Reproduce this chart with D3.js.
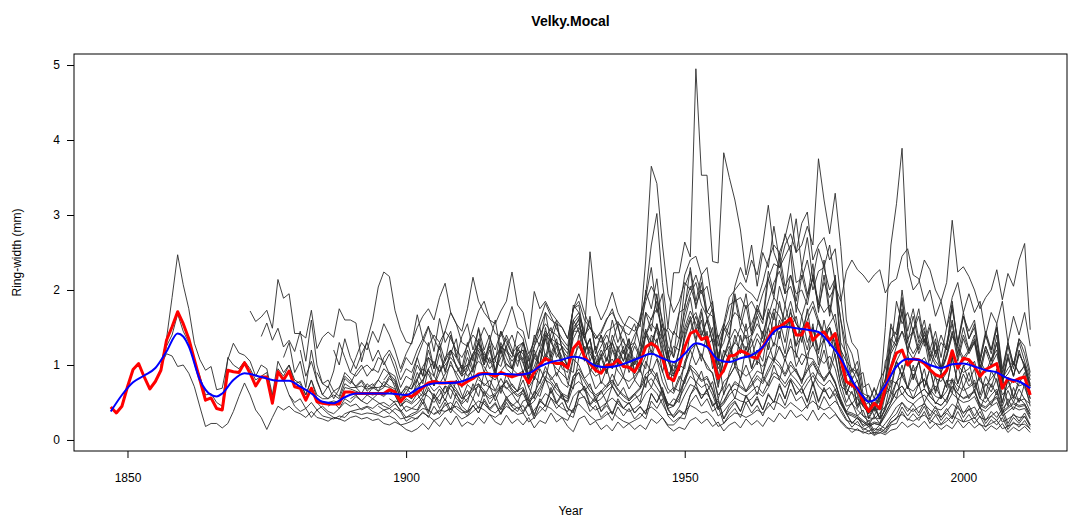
<!DOCTYPE html>
<html>
<head>
<meta charset="utf-8">
<script src="https://cdn.jsdelivr.net/npm/d3@7"></script>
<style>
  body { margin: 0; background: #fff; }
  text { font-family: "Liberation Sans", Arial, sans-serif; fill: #000; }
</style>
</head>
<body>
<div id="chart"></div>
<script>
// Ring-width series (mm), one array per tree, first year in seriesStart
const seriesStart = [1847, 1856, 1856, 1872, 1874, 1878, 1878, 1879, 1881, 1884, 1884, 1886, 1887,
                     1890, 1890, 1891, 1893, 1895, 1896, 1897, 1899, 1901, 1905, 1909, 1913, 1920];

const s01 = [.44,.36,.45,.71,.94,1.02,.84,.68,.78,.95,
  1.25,1.40,1.68,1.45,1.30,1.05,.85,.60,.62,.50, .45,1.10,1.00,.95,1.05,.95,.80,.85,.90,.55,
  .95,.85,1.00,.80,.75,.60,.80,.60,.55,.55, .60,.55,.75,.70,.70,.72,.68,.70,.70,.72,
  .70,.65,.50,.60,.55,.66,.58,.75,.65,.72, .62,.78,.68,.55,.74,.66,.85,.72,.8,.66,
  .82,.68,.75,.64,.8,.55,.85,.75,.98,.8, .9,.76,.7,1.08,1.0,.82,.9,.68,.78,.7,
  .88,.72,.85,.68,.8,.7,1.05,.9,1.08,.78, .62,.7,.65,1.05,1.2,1.0,1.15,.95,.9,.55,
  .78,.85,.98,.82,1.0,.8,.92,.88,1.12,1.05, 1.25,1.05,1.35,.98,1.15,1.1,1.08,.95,1.2,.9,
  1.15,.72,.65,.48,.58,.32,.3,.28,.36,.45, .8,.75,1.0,.68,.88,.72,.82,.62,.72,.56,
  .78,.8,.65,.88,.72,.8,.55,.75,.64,.82, .45,.66,.5,.68,.54,.48];
const s02 = [.98,1.35,1.9,2.47,2.07,1.75,1.29,1.07,.93,.98,.67,.69,1.07,1.29,1.16,1.13,
  1.05,.85,1.0,.95,.6,1.05,.9,1.0,.75,.78,.6,.8,.55,.5,.5,.52,.5,.7,.68,.65,.62,.62,.6,.62,.6,.65,.6,.45,.55,
  .5,.62,.48,.7,.55,.68,.52,.75,.6,.5, .66,.55,.75,.58,.72,.52,.7,.56,.62,.5,
  .68,.45,.65,.58,.82,.62,.76,.55,.52,.85, .9,.65,.75,.52,.66,.5,.72,.58,.7,.52,
  .62,.5,.85,.7,.9,.6,.45,.55,.5,.82, .98,.75,.92,.65,.78,.42,.62,.75,.55,.82,
  .65,.8,.6,.85,.72,1.0,.8,1.08,.88,.95, .75,1.05,.72,.95,.78,.9,.75,.55,.38,.5,
  .32,.4,.2,.32,.22,.45,.52,.78,.6,.72, .55,.75,.5,.66,.48,.6,.5,.8,.52,.72,
  .55,.68,.42,.6,.46,.65,.36,.55,.4,.56, .48,.34];
const s03 = [1.0,1.15,1.12,.98,1.0,.89,.71,.44,.18,.22,.22,.16,.22,.38,.58,.76,
  .6,.4,.3,.14,.3,.45,.4,.45,.38,.35,.3,.38,.3,.28,.25,.3,.28,.35,.38,.36,.34,.36,.35,.33,.3,.32,.28,.2,.22,
  .25,.3,.36,.32,.26,.3,.38,.42,.35,.28, .32,.38,.44,.4,.34,.3,.36,.45,.4,.34,
  .36,.24,.3,.38,.46,.42,.35,.3,.26,.42, .48,.4,.32,.26,.28,.34,.38,.3,.25,.22,
  .26,.3,.4,.44,.38,.3,.2,.2,.28,.38, .46,.42,.36,.38,.3,.18,.22,.3,.36,.34,
  .3,.34,.4,.36,.44,.52,.48,.42,.5,.44, .38,.46,.52,.45,.4,.44,.36,.24,.16,.15,
  .13,.11,.08,.1,.09,.15,.22,.3,.34,.28, .25,.3,.33,.27,.22,.2,.25,.32,.28,.24,
  .26,.3,.2,.18,.22,.26,.15,.18,.22,.2, .21,.15];
const s04 = [1.72,1.58,1.64,1.73,1.49,2.14,1.89,1.95,1.42,1.42,1.36,1.73,1.22,1.37,1.44,1.37,1.75,1.6,1.6,1.56,
  1.04,1.33,1.6,2.04,2.24,2.18,1.73,1.47,1.31,
  1.28,1.67,1.35,1.52,1.18,1.62,1.3,1.45,1.1,1.38, 1.55,1.2,1.48,1.05,1.32,1.6,1.15,1.4,1.22,.98,
  1.3,.85,1.25,1.5,1.1,1.42,1.6,1.2,.95,1.45, 1.62,1.18,1.35,.9,1.12,1.3,.95,1.25,1.05,1.35,
  .88,1.2,1.48,1.15,1.55,1.25,.8,1.05,.92,1.4, 1.6,1.3,1.7,1.25,1.05,.7,1.1,1.35,.98,1.25,
  1.4,.95,1.2,1.05,1.5,1.25,1.6,1.3,1.75,1.1, 1.45,1.2,1.55,1.0,1.35,1.5,1.1,.75,.5,.65,
  .42,.55,.3,.45,.28,.6,.72,1.05,.85,1.1, .8,1.05,.7,.95,.62,.88,.7,1.1,.75,.98,
  1.05,.7,.85,.6,.92,.78,.5,.82,.58,.75, .9,.55];
const s05 = [1.38,1.56,1.33,1.49,1.24,1.33,1.18,1.45,1.05,1.6,1.0,.75,.7,.92,1.3,1.1,.9,.85,.95,1.0,
  .92,1.1,1.05,.88,.8,.62,.7,
  .68,.8,.95,.88,.72,.9,1.1,1.2,.98,.85, .92,1.15,1.3,1.12,.95,1.05,.98,1.25,1.4,1.18,
  1.02,.8,.92,1.15,1.35,1.5,1.28,1.1,1.0,1.45, 1.55,1.35,1.18,1.1,1.25,1.4,1.22,1.05,.98,1.15,
  1.3,1.12,1.4,1.62,1.75,1.45,1.05,.92,1.2,1.5, 1.72,1.55,1.38,1.6,1.3,.95,1.1,1.32,1.48,1.35,
  1.2,1.38,1.55,1.42,1.65,1.9,1.78,1.6,1.85,1.55, 1.45,1.7,1.85,1.6,1.42,1.55,1.68,1.15,.85,.95,
  .78,.6,.5,.68,.55,.82,1.15,1.3,1.45,1.2, 1.08,1.25,1.35,1.15,1.0,.9,1.1,1.42,1.22,1.05,
  1.18,1.3,1.0,.9,1.08,1.2,.82,.95,1.05,.88, 1.0,.72];
const s06 = [.8,.6,.45,.38,.42,.3,.4,.32,.3,.28,.32,.3,.38,.4,.42,.45,.42,.48,.5,.45,.52,.5,.38,.42,
  .4,.55,.38,.62,.48,.72,.55,.8,.6,.5, .75,.58,.9,.7,.95,.62,.88,.72,.65,.92,
  .7,.55,.95,.8,1.15,.85,1.05,.75,.68,1.1, 1.25,.9,1.1,.75,.95,.7,1.05,.85,1.15,.8,
  .95,.7,1.1,1.35,.9,1.2,.65,.85,.75,1.05, 1.3,1.05,1.45,.95,1.15,.6,.9,1.1,.8,1.25,
  .95,1.2,.85,1.3,1.05,1.45,1.15,1.6,1.25,1.4, 1.05,1.5,1.2,1.35,.95,1.3,1.05,.7,.85,.45,
  .6,.35,.5,.28,.4,.65,.55,.9,.7,1.0, .72,.95,.6,.85,.55,.8,.62,1.0,.7,.9,
  .65,.88,.55,.75,.6,.85,.45,.7,.5,.75, .45];
const s07 = [1.1,1.3,.9,1.05,.7,1.2,.8,.6,.72,.55,.68,.9,.82,.7,.78,.65,.72,.8,.95,.88,.7,.5,.62,
  .75,1.0,.85,1.2,.95,1.3,1.05,1.4,1.15,.95, 1.3,1.05,1.5,1.2,1.4,1.05,1.45,1.2,1.1,1.45,
  1.35,.95,1.4,1.25,1.7,1.3,1.55,1.2,1.1,1.8, 1.7,1.35,1.65,1.15,1.4,1.2,1.6,1.3,1.5,1.25,
  1.3,1.65,1.9,2.3,1.7,1.95,1.1,1.45,1.35,2.05, 2.25,1.75,2.1,1.6,1.75,1.0,1.5,1.35,1.9,1.5,
  1.8,1.4,1.7,1.55,2.15,1.9,2.4,1.95,2.5,1.7, 2.2,1.9,2.35,1.7,2.2,1.65,2.1,1.2,1.05,.7,
  .8,.45,.5,.32,.48,.62,1.2,1.35,1.7,1.2, 1.45,1.15,1.35,.95,1.2,.9,1.15,1.45,1.05,1.35,
  1.15,1.3,.88,1.2,.98,1.3,.75,1.1,.85,1.15, 1.0,.75];
const s08 = [.6,.5,.55,.42,.5,.4,.45,.38,.35,.42,.5,.45,.48,.4,.44,.38,.35,.4,.42,.36,.28,.3,
  .32,.36,.42,.4,.34,.38,.46,.5,.42,.36, .38,.45,.52,.48,.4,.36,.44,.55,.48,.42,
  .46,.32,.4,.5,.62,.56,.48,.42,.38,.58, .66,.56,.46,.4,.44,.5,.56,.48,.42,.38,
  .42,.48,.62,.7,.62,.48,.34,.33,.44,.6, .74,.7,.6,.62,.5,.32,.38,.48,.56,.52,
  .5,.55,.64,.58,.7,.85,.8,.7,.82,.72, .62,.75,.86,.72,.64,.7,.58,.38,.26,.24,
  .2,.16,.12,.15,.13,.22,.32,.44,.5,.42, .38,.44,.48,.4,.34,.31,.38,.48,.42,.37,
  .4,.44,.3,.27,.32,.38,.24,.28,.33,.3, .31,.2];
const s09 = [1.2,.85,1.05,.78,.6,.55,.65,.58,.82,.75,.9,1.0,.85,.95,.9,1.1,1.2,1.05,.8,.95,
  .9,1.1,1.3,1.5,1.35,1.2,1.45,1.7,1.55,1.3, 1.25,1.48,1.72,1.85,1.6,1.42,1.38,1.55,1.78,1.5,
  1.45,1.15,1.3,1.6,1.82,1.65,1.48,1.35,1.25,1.75, 1.95,1.7,1.5,1.35,1.42,1.6,1.75,1.5,1.3,1.22,
  1.4,1.55,1.85,2.05,1.9,1.6,1.25,1.1,1.35,1.7, 1.95,2.1,1.8,1.65,1.4,1.15,1.3,1.55,1.7,1.62,
  1.45,1.55,1.75,1.6,1.85,2.1,2.25,1.95,2.05,1.8, 1.65,1.9,2.15,1.85,1.7,1.8,1.55,1.2,.9,.78,
  .62,.5,.42,.55,.48,.72,1.0,1.25,1.45,1.3, 1.15,1.28,1.4,1.2,1.05,.95,1.12,1.38,1.25,1.1,
  1.2,1.32,1.05,.92,1.0,1.15,.8,.88,1.02,.9, .98,.62];
const s10 = [.5,.42,.35,.3,.28,.25,.3,.32,.28,.3,.26,.28,.22,.2,.24,.2,.14,.11,
  .15,.22,.14,.26,.18,.3,.2,.32,.18,.24, .2,.3,.22,.34,.24,.2,.33,.22,.28,.2,
  .3,.16,.26,.22,.36,.24,.3,.18,.11,.28, .32,.2,.25,.14,.2,.12,.24,.16,.22,.14,
  .2,.14,.28,.22,.3,.18,.12,.17,.14,.26, .3,.22,.28,.18,.24,.12,.2,.24,.16,.28,
  .2,.26,.18,.3,.24,.36,.28,.4,.3,.34, .26,.4,.26,.36,.28,.34,.26,.18,.1,.15,
  .09,.12,.06,.1,.07,.13,.15,.24,.17,.22, .17,.25,.15,.22,.14,.2,.15,.26,.16,.24,
  .16,.22,.12,.19,.14,.22,.1,.17,.12,.18, .1];
const s11 = [.9,.75,.8,.65,.7,.85,.78,.72,.8,.7,.75,.65,.7,.82,.75,.55,.68,
  .62,.72,.8,.95,1.05,.92,1.0,1.1,1.0,.88, .98,1.12,1.22,1.15,1.05,1.1,1.25,1.18,1.05,1.15,
  1.2,.95,1.1,1.3,1.45,1.35,1.3,1.25,1.15,1.55, 1.65,1.4,1.5,1.35,1.45,1.62,1.7,1.55,1.5,1.65,
  1.6,1.51,2.4,3.65,3.42,2.6,1.95,1.7,1.85,2.1, 2.0,2.2,1.95,2.05,1.7,1.25,1.5,1.8,1.85,1.9,
  1.75,1.85,1.7,1.95,2.15,2.35,2.3,2.45,2.6,2.1, 2.15,2.4,2.0,2.25,2.3,2.0,2.15,1.6,1.05,.95,
  .9,.55,.5,.4,.58,.75,1.35,1.45,1.85,1.3, 1.65,1.3,1.5,1.1,1.35,.95,1.3,1.6,1.15,1.5,
  1.2,1.4,.95,1.25,1.05,1.4,.78,1.15,.85,1.2, .95,.7];
const s12 = [.45,.5,.42,.55,.5,.58,.52,.6,.55,.62,.58,.65,.6,.45,.52,
  .48,.55,.62,.58,.5,.6,.72,.68,.55,.48, .55,.66,.72,.62,.55,.6,.7,.78,.65,.58,
  .62,.45,.52,.66,.8,.75,.62,.55,.5,.72, .78,.7,.58,.5,.55,.65,.72,.6,.52,.48,
  .55,.6,.75,.82,.7,.58,.42,.45,.55,.7, .85,.78,.7,.75,.6,.4,.48,.6,.68,.62,
  .58,.65,.72,.62,.78,.9,.85,.75,.88,.8, .7,.82,.9,.78,.72,.8,.68,.48,.35,.32,
  .28,.24,.18,.22,.2,.32,.45,.55,.62,.52, .48,.55,.6,.5,.42,.4,.48,.62,.55,.5,
  .52,.58,.42,.38,.45,.5,.32,.38,.44,.4, .42,.28];
const s13 = [1.2,1.0,1.35,1.1,.95,1.15,1.3,1.05,1.2,1.0,1.15,.95,.7,.85,
  .8,1.1,.85,1.3,.95,1.25,.9,1.15,1.35,.9, 1.2,.95,1.35,1.05,1.25,.88,1.3,1.1,.95,1.25,
  1.05,.78,1.2,1.0,1.5,1.15,1.35,1.0,.95,1.6, 1.45,1.2,1.35,.95,1.15,.9,1.3,1.05,1.25,.95,
  1.1,.95,1.45,1.3,1.5,1.35,1.5,2.23,2.23,2.64, 2.44,4.95,3.53,3.53,2.38,2.36,3.83,3.5,3.2,2.8,
  2.2,2.6,2.05,2.5,2.3,2.85,2.4,2.75,2.5,2.95, 2.3,2.7,2.15,2.55,2.3,2.6,2.1,1.6,1.25,.9,
  1.05,.62,.58,.45,.65,.8,1.5,1.4,1.9,1.35, 1.45,1.65,1.25,1.5,1.1,1.3,1.2,1.85,1.25,1.65,
  1.35,1.5,1.05,1.4,1.15,1.5,.85,1.25,.95,1.3, 1.05,.8];
const s14 = [.55,.6,.52,.48,.55,.5,.45,.42,.48,.4,.3,.35,
  .38,.5,.35,.58,.42,.55,.4,.62,.45,.38, .55,.42,.65,.48,.6,.4,.58,.45,.52,.38,
  .5,.32,.55,.45,.7,.5,.62,.42,.38,.62, .72,.48,.58,.38,.5,.35,.55,.42,.5,.36,
  .45,.35,.62,.5,.7,.42,.3,.4,.35,.6, .75,.55,.68,.45,.55,.28,.45,.52,.38,.6,
  .45,.58,.4,.62,.5,.75,.55,.8,.6,.7, .5,.78,.52,.7,.55,.68,.5,.35,.22,.3,
  .2,.26,.12,.2,.15,.28,.35,.5,.38,.48, .36,.5,.32,.45,.3,.42,.3,.52,.35,.46,
  .32,.44,.26,.38,.3,.42,.22,.35,.25,.36, .2];
const s15 = [.9,1.1,1.3,1.2,1.45,1.3,1.55,1.4,1.2,.95,1.15,
  1.3,1.5,1.65,1.75,1.6,1.9,2.09,1.7,1.55,1.45, 1.75,2.17,1.85,1.7,1.6,1.55,1.72,1.85,2.24,1.8,
  1.7,1.35,1.98,1.75,1.85,1.7,1.6,1.5,1.35,1.75, 1.8,1.35,1.6,1.2,1.4,1.05,1.3,1.55,1.15,1.35,
  1.0,1.3,1.7,1.45,1.95,1.3,1.05,.85,1.2,1.6, 1.9,1.45,1.75,1.3,1.5,.85,1.2,1.05,1.4,1.15,
  1.55,1.1,1.35,1.2,1.7,1.4,1.85,1.5,1.6,1.25, 1.65,1.3,1.5,1.15,1.6,1.25,1.4,.85,.6,.8,
  .45,.6,.28,.42,.3,.7,.65,1.05,.85,1.15, .82,1.05,.7,.95,.65,.9,.7,1.1,.75,1.0,
  .78,.95,.6,.85,.7,.95,.5,.8,.55,.82, .7,.5];
const s16 = [.7,.62,.75,.68,.8,.72,.85,.78,.55,.62,
  .58,.68,.8,.92,.85,.75,.88,1.0,.9,.78, .82,.95,1.05,.98,.85,.8,.92,1.02,.95,.88,
  .92,.7,.82,.98,1.15,1.05,.95,.88,.8,1.1, 1.25,1.1,.95,.85,.9,1.0,1.08,.92,.82,.78,
  .85,.95,1.12,1.2,1.1,.92,.68,.62,.8,1.0, 1.2,1.28,1.12,1.0,.88,.6,.7,.85,.98,.92,
  .85,.92,1.05,.98,1.12,1.3,1.22,1.1,1.25,1.15, 1.0,1.15,1.28,1.1,1.02,1.12,.95,.65,.45,.48,
  .4,.32,.25,.3,.28,.42,.6,.78,.85,.7, .65,.75,.8,.68,.58,.55,.65,.82,.72,.66,
  .7,.76,.55,.5,.6,.68,.42,.5,.58,.52, .55,.38];
const s17 = [.6,.7,.65,.78,.72,.68,.5,.6,
  .55,.8,.62,.95,.72,1.0,.78,1.05,.85,.7, 1.0,.82,1.15,.9,1.1,.85,1.2,.95,.88,1.15,
  1.2,.8,1.15,1.0,1.4,1.1,1.3,1.05,.95,1.5, 1.6,1.15,1.35,1.0,1.2,1.05,1.4,1.2,1.35,1.05,
  1.25,1.1,1.7,1.6,1.85,1.4,1.05,1.25,1.2,1.8, 2.05,1.8,2.0,1.7,1.65,1.05,1.45,1.6,2.05,2.3,
  2.1,2.4,2.2,2.6,3.13,2.5,2.3,2.6,2.75,2.5, 2.6,2.85,2.6,3.75,3.2,2.75,3.29,2.58,1.6,1.3,
  1.2,.7,.75,.55,.8,.95,1.55,1.3,2.0,1.45, 1.75,1.35,1.6,1.2,1.45,1.1,1.5,1.75,1.3,1.65,
  1.45,1.6,1.1,1.45,1.2,1.55,.95,1.3,1.0,1.35, 1.15,.85];
const s18 = [.45,.4,.35,.42,.38,.25,.3,
  .28,.38,.3,.45,.34,.5,.36,.52,.4,.32, .46,.36,.55,.42,.5,.35,.54,.44,.38,.52,
  .55,.34,.52,.45,.66,.48,.6,.42,.36,.65, .68,.46,.55,.38,.46,.34,.52,.42,.5,.36,
  .44,.34,.62,.5,.65,.4,.3,.38,.34,.6, .7,.55,.66,.45,.52,.28,.4,.5,.38,.58,
  .45,.55,.4,.6,.5,.72,.55,.8,.62,.68, .52,.75,.5,.68,.55,.62,.5,.36,.22,.3,
  .18,.22,.09,.16,.11,.24,.28,.44,.32,.42, .32,.45,.28,.4,.26,.36,.28,.46,.3,.42,
  .28,.38,.22,.32,.26,.36,.18,.3,.22,.32, .18];
const s19 = [.8,.9,.85,.6,.72,
  .68,.9,.75,1.1,.85,1.15,.92,1.2,.98,.85, 1.1,.9,1.3,1.0,1.2,.92,1.25,1.0,.95,1.2,
  1.15,.78,1.1,1.0,1.35,1.05,1.25,.95,.9,1.45, 1.45,1.05,1.25,.92,1.1,.88,1.2,1.0,1.2,.9,
  1.05,.9,1.4,1.25,1.55,1.1,.85,1.0,.92,1.45, 1.65,1.35,1.6,1.25,1.35,.75,1.1,1.25,1.0,1.4,
  1.1,1.35,1.0,1.45,1.2,1.7,1.35,1.8,1.5,1.65, 1.3,1.75,1.25,1.6,1.3,1.5,1.25,.95,.62,.8,
  .6,.45,.35,.42,.6,1.5,2.6,3.15,3.89,2.3, 2.0,2.1,2.4,2.27,2.0,1.85,2.1,2.93,2.24,2.31,
  2.18,2.0,1.75,1.9,2.0,2.27,1.87,2.22,2.05,2.4, 2.62,1.47];
const s20 = [.55,.5,.38,.45,
  .42,.48,.58,.66,.6,.52,.62,.72,.65,.55, .6,.7,.75,.66,.58,.62,.7,.8,.68,.6,
  .66,.5,.58,.7,.85,.78,.68,.6,.55,.8, .9,.78,.65,.58,.62,.7,.78,.66,.58,.52,
  .6,.68,.82,.9,.8,.65,.48,.45,.6,.78, .95,.88,.78,.82,.66,.44,.52,.66,.75,.7,
  .64,.72,.82,.75,.9,1.05,.98,.85,1.0,.9, .78,.92,1.02,.88,.8,.9,.76,.52,.38,.36,
  .32,.26,.2,.24,.22,.36,.5,.66,.72,.6, .55,.62,.68,.58,.5,.46,.55,.72,.62,.56,
  .6,.65,.48,.44,.52,.58,.38,.44,.5,.46, .48,.34];
const s21 = [.9,1.1,
  1.0,1.2,1.35,1.25,1.4,1.3,1.45,1.35,1.2,1.1, 1.25,1.4,1.3,1.5,1.35,1.2,1.45,1.3,1.15,1.25,
  1.3,1.05,1.25,1.4,1.55,1.45,1.4,1.3,1.2,1.6, 1.7,1.45,2.51,1.8,1.6,1.75,1.97,1.7,1.55,1.5,
  1.45,1.6,1.95,2.6,3.02,2.1,1.5,1.4,1.7,2.2, 2.4,2.45,2.2,2.3,1.8,1.35,1.55,1.9,2.0,2.1,
  2.0,1.95,1.85,2.1,2.4,2.6,2.5,2.7,3.02,2.5, 2.89,3.04,2.4,2.6,2.7,2.4,2.55,1.9,1.3,1.15,
  .85,.9,.5,.7,.5,1.05,1.2,1.85,1.55,1.7, 1.45,1.75,1.3,1.55,1.15,1.4,1.2,1.8,1.3,1.7,
  1.35,1.55,1.05,1.4,1.2,1.5,.9,1.3,1.0,1.35, 1.25,.9];
const s22 = [.7,.82,.98,1.1,1.02,.9,1.05,1.2,1.1,.95, 1.0,1.15,1.28,1.18,1.02,1.1,1.22,1.35,1.15,1.05,
  1.1,.85,.98,1.2,1.42,1.3,1.15,1.05,.98,1.35, 1.5,1.35,1.15,1.02,1.1,1.22,1.3,1.12,1.0,.95,
  1.05,1.15,1.4,1.55,1.45,1.2,.9,.85,1.05,1.35, 1.6,1.7,1.45,1.3,1.15,.82,.95,1.15,1.3,1.22,
  1.15,1.25,1.42,1.3,1.5,1.75,1.65,1.5,1.7,1.55, 1.4,1.6,1.78,1.55,1.42,1.5,1.3,.92,.68,.62,
  .55,.45,.36,.42,.4,.6,.85,1.05,1.2,1.0, .92,1.02,1.1,.95,.82,.78,.9,1.12,1.0,.9,
  .95,1.05,.78,.72,.82,.92,.6,.7,.8,.72, .75,.55];
const s23 = [.35,.4,.38,.42,.45,.4,.36,
  .46,.36,.52,.4,.48,.34,.5,.38,.44,.36, .48,.28,.45,.38,.56,.42,.5,.34,.3,.55,
  .58,.38,.46,.3,.38,.26,.44,.32,.42,.28, .36,.28,.52,.42,.55,.32,.24,.3,.28,.5,
  .6,.45,.55,.38,.45,.22,.34,.42,.3,.5, .36,.46,.32,.5,.4,.62,.46,.68,.52,.58,
  .42,.65,.4,.58,.45,.52,.42,.28,.17,.25, .13,.18,.07,.13,.09,.2,.22,.38,.26,.35,
  .26,.38,.22,.33,.21,.3,.22,.38,.24,.34, .22,.32,.17,.27,.2,.3,.14,.24,.17,.26, .14];
const s24 = [.9,1.0,.85,
  .95,1.2,1.0,1.3,.92,1.1,1.25,.95,1.15,.9, 1.1,.8,1.2,1.05,1.35,1.1,1.25,.95,.9,1.4,
  1.45,1.05,1.25,.9,1.1,.95,1.2,1.05,1.25,.92, 1.05,.95,1.4,1.3,1.55,1.15,.88,1.0,.95,1.45,
  1.65,1.4,1.6,1.3,1.4,.9,1.2,1.3,1.5,1.35, 1.4,1.65,1.35,1.75,1.6,2.05,1.8,2.2,1.95,2.0,
  1.8,2.2,1.75,2.1,1.9,2.05,1.85,2.25,2.4,2.27, 2.2,2.1,2.2,2.27,1.96,2.1,2.15,2.45,2.55,2.2,
  2.15,1.85,2.0,1.65,1.85,1.5,1.9,2.1,1.7,1.95, 1.7,1.85,1.4,1.7,1.55,1.85,1.3,1.65,1.4,1.7, 1.25];
const s25 = [.8,.75,.7,.65,.72,.7,.62,.66,
  .7,.52,.62,.78,.92,.85,.72,.62,.58,.85, .95,.82,.7,.6,.65,.74,.8,.68,.6,.55,
  .62,.7,.88,.95,.85,.66,.48,.46,.62,.82, 1.0,.92,.8,.85,.68,.42,.5,.65,.78,.72,
  .66,.74,.86,.78,.95,1.1,1.02,.88,1.05,.92, .8,.95,1.05,.9,.82,.92,.78,.52,.36,.34,
  .3,.24,.18,.22,.2,.35,.5,.65,.72,.6, .55,.62,.68,.58,.5,.46,.55,.7,.62,.55,
  .58,.64,.46,.42,.5,.56,.36,.42,.48,.44, .46,.3];
const s26 = [1.2,
  1.3,1.1,1.35,1.5,1.7,1.6,1.55,1.5,1.35,1.75, 1.85,1.6,1.5,1.4,1.3,1.45,1.5,1.58,1.45,1.4,
  1.55,1.25,2.0,1.75,2.15,1.5,1.45,1.1,1.7,1.75, 2.3,1.85,2.2,1.7,1.85,1.05,1.55,1.4,1.95,1.6,
  1.95,1.45,1.8,1.6,2.25,1.95,2.5,2.05,2.2,1.85, 2.3,1.95,2.15,1.8,2.4,1.7,2.2,1.3,1.15,.8,
  .95,.5,.6,.38,.55,.7,1.35,1.25,1.75,1.15, 1.5,1.2,1.45,1.05,1.3,.95,1.25,1.55,1.1,1.4,
  1.2,1.35,.95,1.25,1.05,1.3,.8,1.1,.85,1.15, 1.0,.72];

const seriesValues = [s01, s02, s03, s04, s05, s06, s07, s08, s09, s10, s11, s12, s13,
                      s14, s15, s16, s17, s18, s19, s20, s21, s22, s23, s24, s25, s26];

// Mean chronology (red), 1847-2012
const meanStart = 1847;
const meanValues = [.44,.36,.45,.71,.94,1.02,.84,.68,.78,.93,
  1.33,1.51,1.71,1.55,1.35,1.07,.80,.53,.56,.42, .40,.93,.91,.90,1.03,.89,.72,.84,.84,.49,
  .91,.80,.92,.71,.69,.53,.69,.51,.49,.48, .48,.48,.64,.64,.62,.62,.62,.62,.62,.62,
  .67,.64,.51,.60,.58,.63,.70,.76,.78,.76, .76,.77,.77,.73,.78,.82,.88,.89,.88,.85,
  .90,.87,.84,.87,.88,.76,.91,1.00,1.09,1.04, 1.02,1.02,.96,1.22,1.31,1.11,1.02,.93,.89,1.00,
  1.00,1.07,.98,.97,.91,1.04,1.24,1.29,1.24,1.09, .84,.79,.98,1.24,1.42,1.46,1.34,1.37,1.09,.82,
  .93,1.12,1.13,1.19,1.16,1.11,1.09,1.24,1.36,1.49, 1.51,1.56,1.62,1.40,1.40,1.56,1.33,1.41,1.44,1.33,
  1.42,1.07,.78,.73,.69,.51,.38,.49,.42,.69, .96,1.16,1.20,1.00,1.08,1.07,1.02,.94,.87,.84,
  .93,1.19,.96,1.09,1.07,.98,.85,.94,.98,1.02, .69,.82,.78,.82,.84,.60];

// Smoothing spline (blue), read at these years
const splineYears = [1847,1849,1851,1853,1855,1857,1859,1860,1861,1863,1865,1866,1867,1869,1871,1874,1877,1879,
  1881,1883,1885,1887,1889,1891,1894,1897,1900,1902,1904,1906,1908,1910,1912,1914,1918,1920,1922,1924,1926,
  1928,1930,1932,1934,1936,1938,1940,1942,1944,1946,1948,1950,1952,1954,1956,1958,1960,1962,1964,1966,1968,
  1970,1972,1974,1976,1978,1980,1982,1983,1984,1986,1988,1990,1992,1994,1996,1998,2000,2002,2004,2006,2008,
  2010,2012];
const splineValues = [.38,.60,.77,.86,.96,1.18,1.42,1.38,1.25,.80,.60,.58,.62,.80,.89,.84,.79,.79,
  .71,.62,.51,.49,.57,.62,.62,.62,.60,.68,.74,.76,.76,.78,.84,.88,.88,.87,.89,.98,1.04,
  1.07,1.11,1.08,.99,.97,.99,1.04,1.10,1.15,1.09,1.04,1.15,1.29,1.24,1.07,1.04,1.09,1.13,1.24,1.44,1.51,
  1.49,1.47,1.44,1.29,1.09,.80,.58,.51,.53,.73,.98,1.08,1.07,1.0,.96,1.01,1.02,.98,.93,.90,.82,
  .78,.69];

const xTicks = [1850, 1900, 1950, 2000];
const yTicks = [0, 1, 2, 3, 4, 5];

const width = 1071, height = 520;
const plot = { left: 74, right: 1067, top: 54, bottom: 451 };

const svg = d3.select("#chart").append("svg")
  .attr("width", width)
  .attr("height", height)
  .style("display", "block");

const x = d3.scaleLinear().domain([1840.4, 2018.6]).range([plot.left, plot.right]);
const y = d3.scaleLinear().domain([-0.147, 5.147]).range([plot.bottom, plot.top]);

const line = d3.line()
  .x(d => x(d[0]))
  .y(d => y(d[1]));

// individual series
seriesValues.forEach((vals, i) => {
  const pts = vals.map((v, j) => [seriesStart[i] + j, v]);
  svg.append("path")
    .datum(pts)
    .attr("d", line)
    .attr("fill", "none")
    .attr("stroke", "#2b2b2b")
    .attr("stroke-width", 0.9);
});

// mean in red
svg.append("path")
  .datum(meanValues.map((v, j) => [meanStart + j, v]))
  .attr("d", line)
  .attr("fill", "none")
  .attr("stroke", "#ff0000")
  .attr("stroke-width", 3)
  .attr("stroke-linejoin", "round");

// spline in blue
svg.append("path")
  .datum(splineYears.map((yr, j) => [yr, splineValues[j]]))
  .attr("d", line.curve(d3.curveMonotoneX))
  .attr("fill", "none")
  .attr("stroke", "#0000ff")
  .attr("stroke-width", 2);

// box
svg.append("rect")
  .attr("x", plot.left).attr("y", plot.top)
  .attr("width", plot.right - plot.left).attr("height", plot.bottom - plot.top)
  .attr("fill", "none").attr("stroke", "#000").attr("stroke-width", 1);

// axes
const xAxis = svg.append("g")
  .attr("transform", `translate(0,${plot.bottom})`)
  .call(d3.axisBottom(x).tickValues(xTicks).tickFormat(d3.format("d")).tickSize(7).tickPadding(15));
const yAxis = svg.append("g")
  .attr("transform", `translate(${plot.left},0)`)
  .call(d3.axisLeft(y).tickValues(yTicks).tickFormat(d3.format("d")).tickSize(7).tickPadding(7));
[xAxis, yAxis].forEach(g => {
  g.select(".domain").remove();
  g.selectAll("text").attr("font-size", 12).attr("fill", "#000")
    .attr("font-family", "Liberation Sans, Arial, sans-serif");
  g.selectAll("line").attr("stroke", "#000");
});

// title and labels
svg.append("text")
  .attr("x", (plot.left + plot.right) / 2).attr("y", 26)
  .attr("text-anchor", "middle")
  .attr("font-size", 14).attr("font-weight", "bold")
  .text("Velky.Mocal");

svg.append("text")
  .attr("x", (plot.left + plot.right) / 2).attr("y", 515)
  .attr("text-anchor", "middle")
  .attr("font-size", 12)
  .text("Year");

svg.append("text")
  .attr("transform", `translate(21,${(plot.top + plot.bottom) / 2}) rotate(-90)`)
  .attr("text-anchor", "middle")
  .attr("font-size", 12)
  .text("Ring-width (mm)");
</script>
</body>
</html>
